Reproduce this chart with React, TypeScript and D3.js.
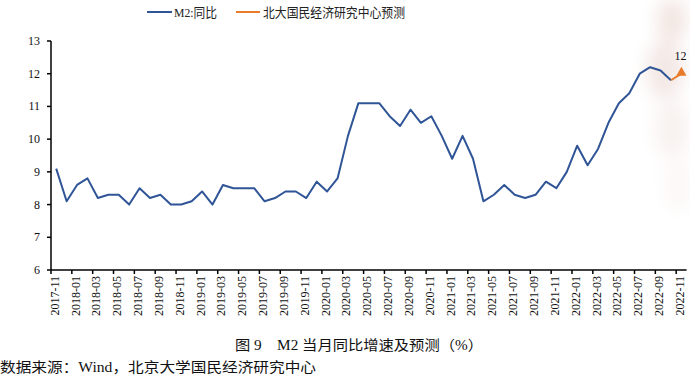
import React from "react";
import * as d3 from "d3";

const months: string[] = d3
  .timeMonth.range(new Date(2017, 10, 1), new Date(2022, 11, 1))
  .map((d) => d3.timeFormat("%Y-%m")(d));

const m2Values: number[] = [
  9.1, 8.1,
  8.6, 8.8, 8.2, 8.3, 8.3, 8.0, 8.5, 8.2, 8.3, 8.0, 8.0, 8.1,
  8.4, 8.0, 8.6, 8.5, 8.5, 8.5, 8.1, 8.2, 8.4, 8.4, 8.2, 8.7,
  8.4, 8.8, 10.1, 11.1, 11.1, 11.1, 10.7, 10.4, 10.9, 10.5, 10.7, 10.1,
  9.4, 10.1, 9.4, 8.1, 8.3, 8.6, 8.3, 8.2, 8.3, 8.7, 8.5, 9.0,
  9.8, 9.2, 9.7, 10.5, 11.1, 11.4, 12.0, 12.2, 12.1, 11.8,
];
const forecastMonths: string[] = ["2022-10", "2022-11"];
const forecastValues: number[] = [11.8, 12.0];
const yTicks: number[] = [6, 7, 8, 9, 10, 11, 12, 13];

const legendItems = [
  { label: "M2:同比", color: "#2F5597" },
  { label: "北大国民经济研究中心预测", color: "#E87B2C" },
];
const caption = "图 9　M2 当月同比增速及预测（%）";
const source = "数据来源：Wind，北京大学国民经济研究中心";

const W = 690;
const H = 377;
const serif = "'Liberation Serif', 'Times New Roman', 'Noto Sans CJK SC', serif";
const cjk = "'Liberation Serif', 'Noto Sans CJK SC', serif";

export default function App() {
  const x = d3.scaleBand<string>().domain(months).range([51, 686.6]).padding(0);
  const y = d3.scaleLinear().domain([6, 13]).range([270, 41]);
  const cx = (m: string) => (x(m) as number) + x.bandwidth() / 2;

  const line = d3
    .line<[string, number]>()
    .x((d) => cx(d[0]))
    .y((d) => y(d[1]));

  const m2Data: [string, number][] = m2Values.map((v, i) => [months[i], v]);
  const fcData: [string, number][] = forecastValues.map((v, i) => [forecastMonths[i], v]);
  const last = fcData[fcData.length - 1];
  const tri = d3.symbol().type(d3.symbolTriangle).size(45)();

  return (
    <svg
      width={W}
      height={H}
      style={{ position: "absolute", left: 0, top: 0, background: "#fff" }}
    >
      <defs>
        <filter id="blur" x="-50%" y="-50%" width="200%" height="200%">
          <feGaussianBlur stdDeviation="9" />
        </filter>
      </defs>
      {/* faint watermark on right */}
      <g filter="url(#blur)" opacity={0.35}>
        <ellipse cx={672} cy={20} rx={14} ry={22} fill="#d7b3a6" />
        <ellipse cx={665} cy={70} rx={18} ry={30} fill="#dcbcb2" />
        <ellipse cx={672} cy={130} rx={16} ry={28} fill="#ead5cf" />
        <ellipse cx={678} cy={185} rx={12} ry={25} fill="#f3e6e2" />
      </g>

      {/* legend */}
      <g fontFamily={cjk} fontSize={13}>
        <line x1={147} x2={172} y1={12} y2={12} stroke={legendItems[0].color} strokeWidth={2} />
        <text x={174} y={12} dominantBaseline="central" fill="#222" textLength={43} lengthAdjust="spacingAndGlyphs">
          {legendItems[0].label}
        </text>
        <line x1={236} x2={260} y1={12} y2={12} stroke={legendItems[1].color} strokeWidth={2} />
        <text x={263} y={12} dominantBaseline="central" fill="#222" textLength={142} lengthAdjust="spacingAndGlyphs">
          {legendItems[1].label}
        </text>
      </g>

      {/* y axis */}
      <line x1={51} x2={51} y1={y(13)} y2={y(6)} stroke="#000" strokeWidth={1.5} />
      {yTicks.map((t) => (
        <g key={t}>
          <line x1={47} x2={51} y1={y(t)} y2={y(t)} stroke="#000" strokeWidth={1.5} />
          <text
            x={40}
            y={y(t)}
            textAnchor="end"
            dominantBaseline="central"
            fontFamily={serif}
            fontSize={12}
            fill="#111"
          >
            {t}
          </text>
        </g>
      ))}

      {/* x axis */}
      <line x1={51} x2={686.6} y1={270} y2={270} stroke="#000" strokeWidth={1.5} />
      {months.map((m, i) =>
        i % 2 === 0 ? (
          <g key={m}>
            <line
              x1={x(m) as number}
              x2={x(m) as number}
              y1={270}
              y2={274}
              stroke="#000"
              strokeWidth={1.5}
            />
            <text
              transform={`translate(${cx(m) - 1.5},${276}) rotate(-90)`}
              textAnchor="end"
              dominantBaseline="central"
              fontFamily={serif}
              fontSize={12}
              fill="#111"
            >
              {m}
            </text>
          </g>
        ) : null
      )}

      {/* series */}
      <path d={line(m2Data) || ""} fill="none" stroke="#2F5597" strokeWidth={2} strokeLinejoin="round" />
      <path d={line(fcData) || ""} fill="none" stroke="#E87B2C" strokeWidth={2} />
      <path
        d={tri || ""}
        transform={`translate(${cx(last[0])},${y(last[1]) - 1})`}
        fill="#E87B2C"
      />
      <text
        x={cx(last[0]) - 1}
        y={56}
        textAnchor="middle"
        dominantBaseline="central"
        fontFamily={serif}
        fontSize={12}
        fill="#111"
      >
        {d3.format("d")(last[1])}
      </text>

      {/* caption */}
      <text
        x={235}
        y={345}
        dominantBaseline="central"
        fontFamily={cjk}
        fontSize={14}
        fill="#111"
        textLength={248}
        lengthAdjust="spacingAndGlyphs"
      >
        {caption}
      </text>
      <text
        x={0}
        y={367}
        dominantBaseline="central"
        fontFamily={cjk}
        fontSize={14}
        fill="#111"
        textLength={316}
        lengthAdjust="spacingAndGlyphs"
      >
        {source}
      </text>
    </svg>
  );
}
